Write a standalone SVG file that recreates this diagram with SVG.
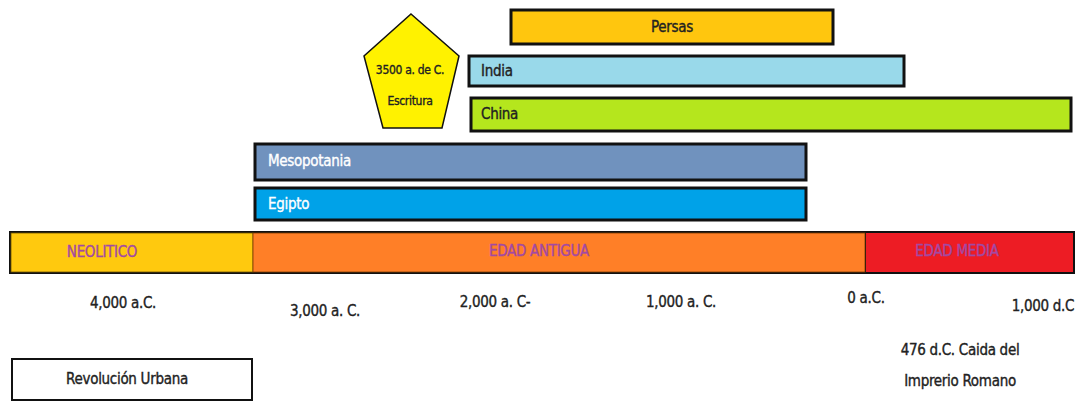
<svg xmlns="http://www.w3.org/2000/svg" width="1080" height="402" viewBox="0 0 1080 402">
<style>
text{font-family:"Liberation Sans Narrow","DejaVu Sans Condensed","Liberation Sans",sans-serif;font-size:15px;fill:#222;stroke:#222;stroke-width:0.35;dominant-baseline:central;letter-spacing:-0.3px}
.bar{stroke:#111;stroke-width:3}
.w{fill:#fff;stroke:#fff}
.era{fill:#A349A4;stroke:#A349A4;font-size:15px}
.c{text-anchor:middle}
</style>
<rect width="1080" height="402" fill="#fff"/>
<g id="persas"><rect class="bar" x="511" y="10" width="322" height="34" fill="#FFC60E"/><text class="c" x="672" y="27">Persas</text></g>
<g id="india"><rect class="bar" x="469" y="56" width="435" height="30" fill="#99D9EA"/><text x="481" y="71">India</text></g>
<g id="china"><rect class="bar" x="471" y="98" width="600" height="33" fill="#B5E61D"/><text x="481" y="114">China</text></g>
<g id="escritura"><polygon points="411,14 459,56 442,128 383,128 364,56" fill="#FFF200" stroke="#111" stroke-width="1.5"/><text class="c" x="410" y="70" style="font-size:12px">3500 a. de C.</text><text class="c" x="410" y="101" style="font-size:12px">Escritura</text></g>
<g id="mesopotania"><rect class="bar" x="255" y="144" width="551" height="36" fill="#7092BE"/><text class="w" x="268" y="161">Mesopotania</text></g>
<g id="egipto"><rect class="bar" x="255" y="188" width="551" height="32" fill="#00A2E8"/><text class="w" x="268" y="204">Egipto</text></g>
<g id="timeline">
<rect x="9" y="231" width="1066" height="43" fill="#111"/>
<rect x="11" y="233" width="242" height="39" fill="#FFC90E" stroke="#6b5200" stroke-width="0.8"/>
<rect x="253" y="233" width="612" height="39" fill="#FF7F27" stroke="#7a3a00" stroke-width="0.8"/>
<rect x="866" y="233" width="207" height="39" fill="#ED1C24"/>
</g>
<g id="neolitico"><text class="era c" x="102" y="252">NEOLITICO</text></g>
<g id="edad-antigua"><text class="era c" x="539" y="251">EDAD ANTIGUA</text></g>
<g id="edad-media"><text class="era c" x="957" y="251">EDAD MEDIA</text></g>
<g id="labels">
<text class="c" x="123" y="303">4,000 a.C.</text>
<text class="c" x="325" y="311">3,000 a. C.</text>
<text class="c" x="495" y="302">2,000 a. C-</text>
<text class="c" x="681" y="302">1,000 a. C.</text>
<text class="c" x="866" y="298">0 a.C.</text>
<text class="c" x="1043" y="306">1,000 d.C</text>
<text class="c" x="960" y="350">476 d.C. Caida del</text>
<text class="c" x="960" y="381">Imprerio Romano</text>
</g>
<g id="revolucion"><rect x="12" y="359" width="240" height="41" fill="#fff" stroke="#111" stroke-width="2"/><text class="c" x="127" y="379">Revolución Urbana</text></g>
</svg>
